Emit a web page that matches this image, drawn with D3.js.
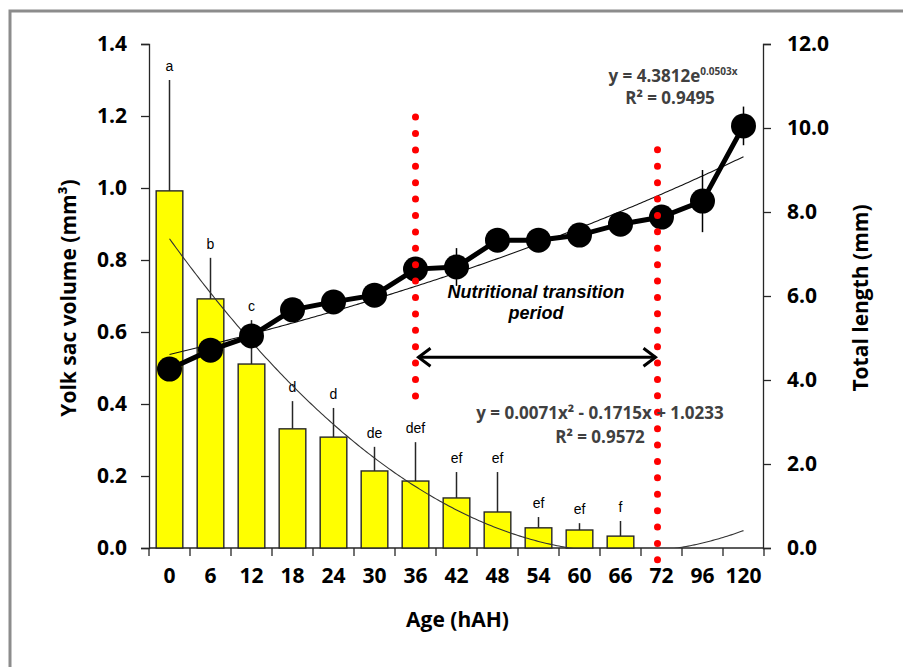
<!DOCTYPE html>
<html>
<head>
<meta charset="utf-8">
<script src="https://cdn.jsdelivr.net/npm/d3@7"></script>
<style>
  body { margin: 0; background: #fff; }
  svg { display: block; }
  .tick text { font-family: "Open Sans", sans-serif; font-weight: 700; font-size: 21px; fill: #000; }
  .axis path, .axis line { stroke: #262626; stroke-width: 1.3; }
</style>
</head>
<body>
<svg id="chart" width="903" height="667"></svg>
<script>
// ── Data ────────────────────────────────────────────────────────────
const AGES = ["0", "6", "12", "18", "24", "30", "36", "42", "48", "54", "60", "66", "72", "96", "120"];

// yolk sac volume (mm3), only 0–66 hAH
const YOLK_MEAN = [0.992, 0.692, 0.511, 0.331, 0.308, 0.214, 0.186, 0.139, 0.100, 0.056, 0.050, 0.033];
const YOLK_SD   = [0.308, 0.114, 0.122, 0.077, 0.081, 0.067, 0.108, 0.072, 0.111, 0.030, 0.019, 0.042];
const YOLK_SIG  = ["a", "b", "c", "d", "d", "de", "def", "ef", "ef", "ef", "ef", "f"];

// total length (mm)
const TL_MEAN = [4.26, 4.71, 5.05, 5.67, 5.86, 6.02, 6.64, 6.69, 7.33, 7.33, 7.45, 7.71, 7.88, 8.26, 10.05];
const TL_SD   = [0.10, 0.10, 0.20, 0.10, 0.10, 0.10, 0.20, 0.45, 0.10, 0.10, 0.10, 0.10, 0.10, 0.74, 0.46];

// trend lines as printed on the chart (x = point number 1..15)
const POLY_COEF = [1.0233, -0.1715, 0.0071];   // yolk sac
const EXP_COEF  = [4.3812, 0.0503];            // total length

const LEFT_TICKS  = [0, 0.2, 0.4, 0.6, 0.8, 1.0, 1.2, 1.4];
const RIGHT_TICKS = [0, 2, 4, 6, 8, 10, 12];

// transition period markers: [age, top, bottom] in yolk-axis units
const TRANSITION = [["36", 1.197, 0.383], ["72", 1.106, -0.039]];
const ARROW_LEVEL = 0.53;

// ── Setup ───────────────────────────────────────────────────────────
const svg = d3.select("#chart");
const m = { left: 149, right: 764, top: 44, bottom: 548 };

svg.append("rect")
  .attr("x", 10).attr("y", 11).attr("width", 920).attr("height", 700)
  .attr("fill", "none").attr("stroke", "#8c8c8c").attr("stroke-width", 3);

const x = d3.scaleBand().domain(AGES).range([m.left, m.right]).paddingInner(0.35).paddingOuter(0.175);
const xc = a => x(a) + x.bandwidth() / 2;
const yL = d3.scaleLinear().domain([0, 1.4]).range([m.bottom, m.top]);
const yR = d3.scaleLinear().domain([0, 12]).range([m.bottom, m.top]);

// ── Axes ────────────────────────────────────────────────────────────
const xAxis = svg.append("g").attr("class", "axis")
  .attr("transform", `translate(0,${m.bottom})`)
  .call(d3.axisBottom(x).tickSize(0).tickPadding(20));
xAxis.select(".domain").attr("d", `M${m.left},0H${m.right}`);
// tick marks between categories
const step = x.step();
xAxis.selectAll("line.sep")
  .data(d3.range(AGES.length + 1))
  .join("line").attr("class", "sep")
  .attr("x1", i => m.left + i * step).attr("x2", i => m.left + i * step)
  .attr("y1", 0).attr("y2", 8);

svg.append("g").attr("class", "axis")
  .attr("transform", `translate(${m.left},0)`)
  .call(d3.axisLeft(yL).tickValues(LEFT_TICKS).tickFormat(d3.format(".1f")).tickSizeOuter(0).tickSize(8).tickPadding(14));

svg.append("g").attr("class", "axis")
  .attr("transform", `translate(${m.right - 1},0)`)
  .call(d3.axisRight(yR).tickValues(RIGHT_TICKS).tickFormat(d3.format(".1f")).tickSizeOuter(0).tickSize(8).tickPadding(16));

svg.selectAll(".axis .domain").attr("stroke", "#262626");

const titleFont = t => t.attr("font-family", "Open Sans, sans-serif").attr("font-weight", 700)
  .attr("font-size", 21).attr("fill", "#000").attr("text-anchor", "middle");

svg.append("text").call(titleFont)
  .attr("x", (m.left + m.right) / 2 + 1).attr("y", 627).text("Age (hAH)");
svg.append("text").call(titleFont)
  .attr("transform", "translate(76,298) rotate(-90)").text("Yolk sac volume (mm³)");
svg.append("text").call(titleFont)
  .attr("transform", "translate(868,298) rotate(-90)").text("Total length (mm)");

// ── Bars ────────────────────────────────────────────────────────────
const yolk = YOLK_MEAN.map((v, i) => ({ age: AGES[i], v, sd: YOLK_SD[i], sig: YOLK_SIG[i] }));

svg.append("g").selectAll("line")
  .data(yolk).join("line")
  .attr("x1", d => xc(d.age)).attr("x2", d => xc(d.age))
  .attr("y1", d => yL(d.v)).attr("y2", d => yL(d.v + d.sd))
  .attr("stroke", "#262626").attr("stroke-width", 1.5);

svg.append("g").selectAll("rect")
  .data(yolk).join("rect")
  .attr("x", d => x(d.age)).attr("width", x.bandwidth())
  .attr("y", d => yL(d.v)).attr("height", d => yL(0) - yL(d.v))
  .attr("fill", "#ffff00").attr("stroke", "#262626").attr("stroke-width", 1.4);

svg.append("g").selectAll("text")
  .data(yolk).join("text")
  .attr("x", d => xc(d.age)).attr("y", d => yL(d.v + d.sd) - 9)
  .attr("text-anchor", "middle")
  .attr("font-family", "Liberation Sans, Arial, sans-serif").attr("font-size", 14)
  .text(d => d.sig);

// ── Trend lines ─────────────────────────────────────────────────────
svg.append("clipPath").attr("id", "plotclip")
  .append("rect").attr("x", m.left).attr("y", 0).attr("width", m.right - m.left).attr("height", m.bottom);

const fine = d3.range(1, AGES.length + 0.001, 0.05);
const xPos = n => m.left + (n - 0.5) * step;

svg.append("path")
  .datum(fine)
  .attr("clip-path", "url(#plotclip)")
  .attr("fill", "none").attr("stroke", "#333").attr("stroke-width", 1.1)
  .attr("d", d3.line().x(xPos).y(n => yL(POLY_COEF[0] + POLY_COEF[1] * n + POLY_COEF[2] * n * n)));

svg.append("path")
  .datum(fine)
  .attr("fill", "none").attr("stroke", "#111").attr("stroke-width", 1.1)
  .attr("d", d3.line().x(xPos).y(n => yR(EXP_COEF[0] * Math.exp(EXP_COEF[1] * n))));

// ── Total length line ───────────────────────────────────────────────
const tl = TL_MEAN.map((v, i) => ({ age: AGES[i], v, sd: TL_SD[i] }));

svg.append("g").selectAll("line")
  .data(tl).join("line")
  .attr("x1", d => xc(d.age)).attr("x2", d => xc(d.age))
  .attr("y1", d => yR(d.v - d.sd)).attr("y2", d => yR(d.v + d.sd))
  .attr("stroke", "#000").attr("stroke-width", 1.5);

svg.append("path")
  .datum(tl)
  .attr("fill", "none").attr("stroke", "#000").attr("stroke-width", 5)
  .attr("d", d3.line().x(d => xc(d.age)).y(d => yR(d.v)));

svg.append("g").selectAll("circle")
  .data(tl).join("circle")
  .attr("cx", d => xc(d.age)).attr("cy", d => yR(d.v)).attr("r", 12.5)
  .attr("fill", "#000");

// ── Transition period ───────────────────────────────────────────────
svg.append("g").selectAll("line")
  .data(TRANSITION).join("line")
  .attr("x1", (d, i) => xc(d[0]) - i * 4).attr("x2", (d, i) => xc(d[0]) - i * 4)
  .attr("y1", d => yL(d[1])).attr("y2", d => yL(d[2]))
  .attr("stroke", "#ff0000").attr("stroke-width", 7)
  .attr("stroke-linecap", "round").attr("stroke-dasharray", "0 16.4");

const ax1 = xc(TRANSITION[0][0]) + 3, ax2 = xc(TRANSITION[1][0]) - 6, ay = yL(ARROW_LEVEL);
const arrow = svg.append("g").attr("stroke", "#000").attr("stroke-width", 3).attr("fill", "none");
arrow.append("line").attr("x1", ax1).attr("x2", ax2).attr("y1", ay).attr("y2", ay);
arrow.append("path").attr("d", `M${ax1 + 12},${ay - 9}L${ax1},${ay}L${ax1 + 12},${ay + 9}`);
arrow.append("path").attr("d", `M${ax2 - 12},${ay - 9}L${ax2},${ay}L${ax2 - 12},${ay + 9}`);

const note = svg.append("text")
  .attr("text-anchor", "middle")
  .attr("font-family", "Liberation Sans, Arial, sans-serif")
  .attr("font-weight", 700).attr("font-style", "italic").attr("font-size", 18);
note.append("tspan").attr("x", 536).attr("y", 298).text("Nutritional transition");
note.append("tspan").attr("x", 536).attr("y", 319).text("period");

// ── Equations ───────────────────────────────────────────────────────
const eq = (t) => t.attr("text-anchor", "middle").attr("font-family", "Open Sans, sans-serif")
  .attr("font-weight", 700).attr("font-size", 17).attr("fill", "#404040");

const e1 = svg.append("text").call(eq).attr("x", 673).attr("y", 82);
e1.append("tspan").text("y = 4.3812e");
e1.append("tspan").attr("font-size", 10).attr("dy", -7).text("0.0503x");
svg.append("text").call(eq).attr("x", 670).attr("y", 104).text("R² = 0.9495");

svg.append("text").call(eq).attr("x", 600).attr("y", 419).text("y = 0.0071x² - 0.1715x + 1.0233");
svg.append("text").call(eq).attr("x", 600).attr("y", 443).text("R² = 0.9572");
</script>
</body>
</html>
